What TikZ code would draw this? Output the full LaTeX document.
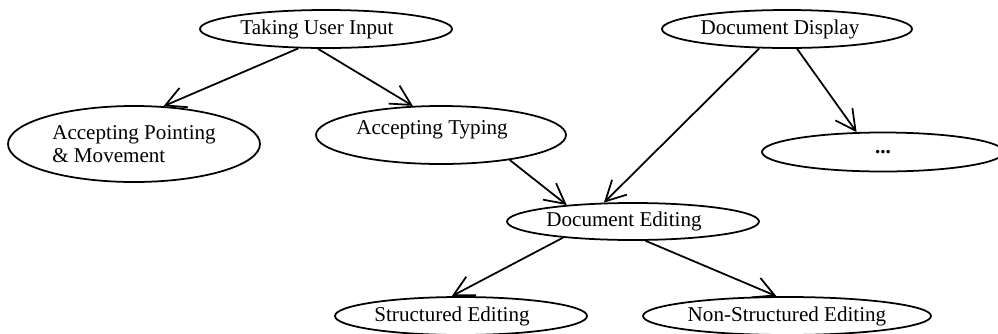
\documentclass[tikz,border=0pt]{standalone}
\usepackage{fontspec}
\setmainfont{Liberation Serif}
\usetikzlibrary{arrows.meta,shapes,positioning}
\tikzstyle{oval} = [ellipse, draw, inner sep=0pt, minimum width=5.04cm, minimum height=0.76cm, font=\fontsize{12}{13}\selectfont]
\tikzstyle{padright} = [execute at end node={\hspace*{0.36cm}}]

\begin{document}
\begin{tikzpicture}[line width=1pt, >={Straight Barb[length=0.4cm,width=0.42cm]}]
        \useasboundingbox (0,0) rectangle (19.96,-6.66);

        \node[oval, padright] (tui) at (6.52,-0.58) {Taking User Input};
        \node[oval, right of=tui, node distance=9.22cm, minimum width=5cm, execute at end node={\hspace*{0.28cm}}] (dsp) {Document Display};

        \node[oval, minimum height=1.52cm, align=left] (pnt) at (2.68,-2.88) {Accepting Pointing\\\& Movement};
        \node[oval, padright, minimum width=5cm, minimum height=1.16cm, text depth=9pt] (typ) at (8.82,-2.70) {Accepting Typing};
        \node[oval, minimum width=4.84cm, minimum height=0.78cm] (dts) at (17.66,-3.04) {\textbf{...}};

        \node[oval, padright, minimum height=0.74cm] (edt) at (12.66,-4.43) {Document Editing};

        \node[oval, padright] (str) at (9.22,-6.32) {Structured Editing};
        \node[oval, right of=str, node distance=6.52cm, minimum width=5.76cm] (nse) {Non-Structured Editing};

        \draw[->] (tui.215) -- (pnt.52);
        \draw[->] (tui.248) -- (typ.134);
        \draw[->] (dsp.297) -- (dts.143);
        \draw[->] (dsp.215) -- (edt.147);
        \draw[->] (typ.340) -- (edt.166);
        \draw[->] (edt.193) -- (str.115);
        \draw[->] (edt.303) -- (nse.118);
\end{tikzpicture}
\end{document}
